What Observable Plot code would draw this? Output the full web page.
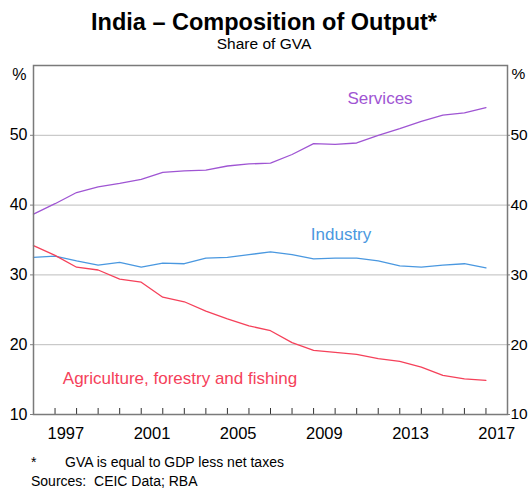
<!DOCTYPE html>
<html>
<head>
<meta charset="utf-8">
<script src="https://cdn.jsdelivr.net/npm/d3@7"></script>
<script src="https://cdn.jsdelivr.net/npm/@observablehq/plot@0.6"></script>
<style>
  body { margin: 0; background: #fff; font-family: "Liberation Sans", Arial, sans-serif; }
  #wrap { width: 528px; height: 488px; position: relative; overflow: hidden; }
  .title { position: absolute; top: 11px; width: 528px; text-align: center; font-weight: bold; font-size: 23.5px; line-height: 23px; color: #000; }
  .subtitle { position: absolute; top: 37px; width: 528px; text-align: center; font-size: 15.5px; line-height: 14px; color: #000; }
  #chart { position: absolute; top: 50px; left: 0; }
  .note { position: absolute; font-size: 14px; line-height: 14px; color: #000; }
</style>
</head>
<body>
<div id="wrap">
  <div class="title">India – Composition of Output*</div>
  <div class="subtitle">Share of GVA</div>
  <div id="chart"></div>
  <div class="note" style="top:455px;left:31px;">*</div>
  <div class="note" style="top:455px;left:65px;">GVA is equal to GDP less net taxes</div>
  <div class="note" style="top:474px;left:31px;">Sources:&nbsp;&nbsp;CEIC Data; RBA</div>
</div>
<script>
const years = [1996,1997,1998,1999,2000,2001,2002,2003,2004,2005,2006,2007,2008,2009,2010,2011,2012,2013,2014,2015,2016,2017];
const services = [38.7,40.2,41.8,42.6,43.1,43.7,44.7,44.9,45.0,45.6,45.9,46.0,47.25,48.8,48.7,48.9,50.0,50.95,52.0,52.9,53.2,53.95];
const industry = [32.5,32.7,32.0,31.4,31.8,31.1,31.7,31.6,32.4,32.5,32.9,33.3,32.9,32.3,32.4,32.4,32.0,31.3,31.1,31.4,31.6,31.0];
const agriculture = [34.2,32.8,31.1,30.7,29.4,28.95,26.8,26.15,24.8,23.7,22.7,22.0,20.3,19.2,18.9,18.6,18.0,17.6,16.8,15.6,15.1,14.9];
const seriesNames = ["Services","Industry","Agriculture, forestry and fishing"];
const seriesColors = ["#9f55d3","#4a98e0","#f5415a"];
const yearTicks = [1997,1998,1999,2000,2001,2002,2003,2004,2005,2006,2007,2008,2009,2010,2011,2012,2013,2014,2015,2016,2017];
const yearLabels = [1997,2001,2005,2009,2013,2017];
const yTicks = [10,20,30,40,50];
const gridTicks = [20,30,40,50];
const labelX = [2010.57, 2008.87, 1997.36];
const labelY = [55.3, 35.75, 15.1];

const seriesValues = [services, industry, agriculture];
const rows = [];
seriesNames.forEach((name, i) => years.forEach((yr, j) => rows.push({year: yr, value: seriesValues[i][j], series: name})));
const labels = seriesNames.map((name, i) => ({name, x: labelX[i], y: labelY[i], color: seriesColors[i]}));

const chart = Plot.plot({
  width: 528,
  height: 400,
  marginLeft: 33,
  marginRight: 21,
  marginTop: 15,
  marginBottom: 36,
  style: {fontFamily: "Liberation Sans, Arial, sans-serif", fontSize: "16px", color: "#000", background: "#fff", overflow: "visible"},
  x: {domain: [1996, 2018], axis: null},
  y: {domain: [10, 60], axis: null},
  color: {domain: seriesNames, range: seriesColors},
  marks: [
    Plot.gridY(gridTicks, {stroke: "#bdbdbd", strokeOpacity: 1, strokeWidth: 1}),
    Plot.axisY(yTicks, {anchor: "left", tickSize: 3, tickPadding: 3, stroke: "#808080", fontSize: 16, tickFormat: d => d}),
    Plot.axisY(yTicks, {anchor: "right", tickSize: 2, tickPadding: 1, stroke: "#808080", fontSize: 15.5, tickFormat: d => d}),
    Plot.axisY([60], {anchor: "left", tickSize: 0, tickPadding: 7, dy: 9, fontSize: 16, tickFormat: () => "%"}),
    Plot.axisY([60], {anchor: "right", tickSize: 0, tickPadding: 4, dy: 9, fontSize: 15.5, tickFormat: () => "%"}),
    Plot.axisX(yearTicks, {anchor: "bottom", tickSize: -6, stroke: "#333", strokeWidth: 1, tickFormat: () => ""}),
    Plot.axisX(yearLabels.map(d => d + 0.5), {anchor: "bottom", tickSize: 0, tickPadding: 13, fontSize: 16.5, tickFormat: d => String(Math.floor(d))}),
    Plot.line(rows, {x: "year", y: "value", z: "series", stroke: "series", strokeWidth: 1.3}),
    Plot.text(labels, {x: "x", y: "y", text: "name", fill: "color", fontSize: 17, textAnchor: "start"}),
    Plot.frame({stroke: "#7a7a7a", strokeWidth: 1.5})
  ]
});
document.getElementById("chart").appendChild(chart);
</script>
</body>
</html>
